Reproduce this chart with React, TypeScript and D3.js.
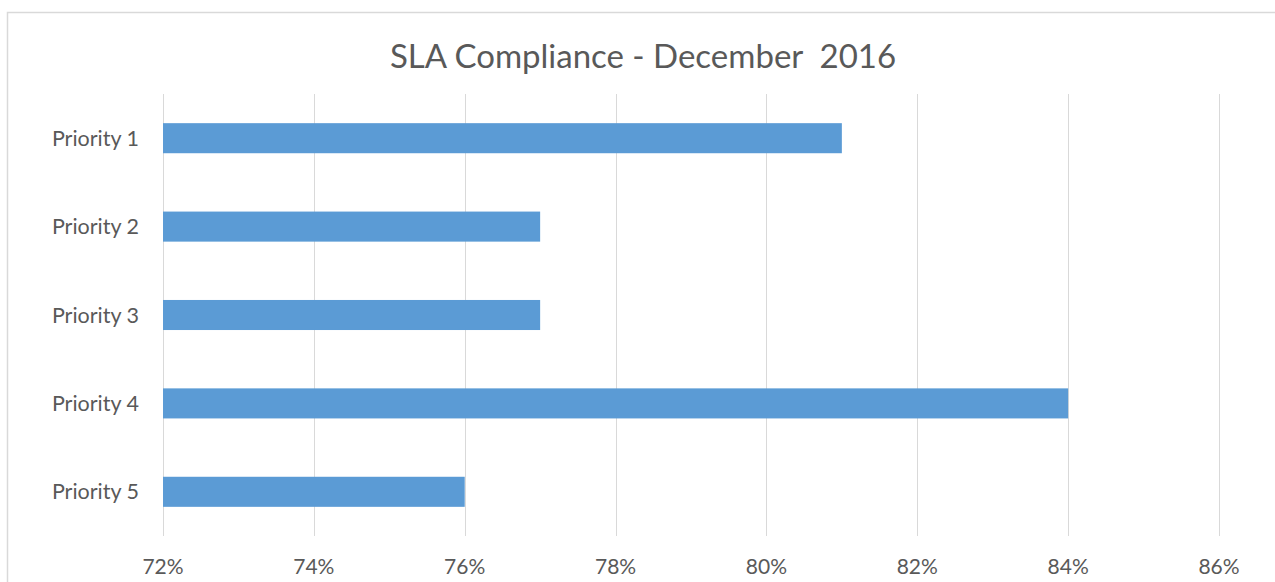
import { useEffect, useRef } from 'react';
import { select, scaleBand, scaleLinear } from 'd3';

const categories = ['Priority 1', 'Priority 2', 'Priority 3', 'Priority 4', 'Priority 5'];
const compliance = [81, 77, 77, 84, 76];
const tickValues = [72, 74, 76, 78, 80, 82, 84, 86];
const title = 'SLA Compliance - December  2016';

export default function App() {
  const svgRef = useRef<SVGSVGElement | null>(null);

  useEffect(() => {
    if (!svgRef.current) return;
    const svg = select(svgRef.current);
    svg.selectAll('*').remove();

    const width = 1275;
    const height = 582;
    const margin = { top: 94, right: 56, bottom: 46, left: 163 };
    const font = 'Lato, "Open Sans", sans-serif';

    // chart area border (cropped at right/bottom in the reference)
    svg
      .append('rect')
      .attr('x', 7.5)
      .attr('y', 12.5)
      .attr('width', width + 20)
      .attr('height', height + 20)
      .attr('fill', '#fff')
      .attr('stroke', '#d9d9d9')
      .attr('stroke-width', 1.5);

    const x = scaleLinear()
      .domain([72, 86])
      .range([margin.left, width - margin.right]);

    const y = scaleBand<string>()
      .domain(categories)
      .range([margin.top, height - margin.bottom])
      .paddingInner(0.66)
      .paddingOuter(0.33);

    svg
      .append('g')
      .selectAll('line')
      .data(tickValues)
      .join('line')
      .attr('x1', (d) => Math.round(x(d)) + 0.5)
      .attr('x2', (d) => Math.round(x(d)) + 0.5)
      .attr('y1', margin.top)
      .attr('y2', height - margin.bottom)
      .attr('stroke', '#d9d9d9')
      .attr('stroke-width', 1);

    svg
      .append('g')
      .selectAll('text')
      .data(tickValues)
      .join('text')
      .attr('x', (d) => x(d))
      .attr('y', 574)
      .attr('text-anchor', 'middle')
      .attr('fill', '#595959')
      .attr('font-family', font)
      .attr('font-size', 21)
      .text((d) => `${d}%`);

    svg
      .append('g')
      .selectAll('rect')
      .data(compliance)
      .join('rect')
      .attr('x', x(72))
      .attr('y', (_, i) => y(categories[i]) ?? 0)
      .attr('width', (d) => x(d) - x(72))
      .attr('height', y.bandwidth())
      .attr('fill', '#5b9bd5');

    svg
      .append('g')
      .selectAll('text')
      .data(categories)
      .join('text')
      .attr('x', 139)
      .attr('y', (d) => (y(d) ?? 0) + y.bandwidth() / 2)
      .attr('dy', '0.35em')
      .attr('text-anchor', 'end')
      .attr('fill', '#595959')
      .attr('font-family', font)
      .attr('font-size', 21.5)
      .text((d) => d);

    svg
      .append('text')
      .attr('x', 643)
      .attr('y', 68)
      .attr('text-anchor', 'middle')
      .attr('fill', '#595959')
      .attr('font-family', font)
      .attr('font-size', 33)
      .style('white-space', 'pre')
      .text(title);
  }, []);

  return (
    <svg
      ref={svgRef}
      width={1275}
      height={582}
      style={{ position: 'absolute', left: 0, top: 0, display: 'block', background: '#fff' }}
    />
  );
}
